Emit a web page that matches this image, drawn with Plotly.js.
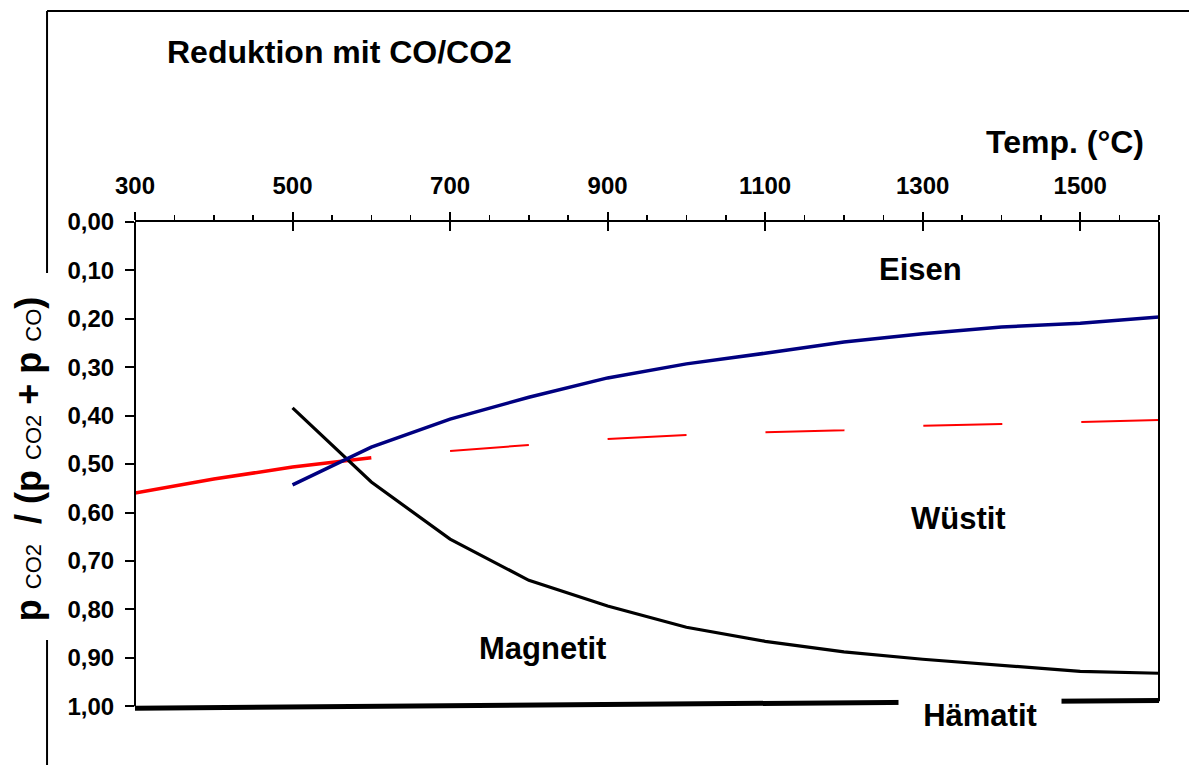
<!DOCTYPE html>
<html>
<head>
<meta charset="utf-8">
<script src="https://cdn.plot.ly/plotly-3.0.1.min.js"></script>
<style>html,body{margin:0;padding:0;background:#fff;}#chart{width:1189px;height:765px;}</style>
</head>
<body>
<div id="chart"></div>
<script>
// Temperature (°C) and p_CO2/(p_CO2+p_CO) values
const tempWuestitEisen = [500, 600, 700, 800, 900, 1000, 1100, 1200, 1300, 1400, 1500, 1600];
const valWuestitEisen  = [0.543, 0.465, 0.407, 0.362, 0.322, 0.293, 0.271, 0.248, 0.231, 0.217, 0.209, 0.196];

const tempMagnetitWuestit = [500, 600, 700, 800, 900, 1000, 1100, 1200, 1300, 1400, 1500, 1600];
const valMagnetitWuestit  = [0.384, 0.537, 0.655, 0.740, 0.793, 0.837, 0.866, 0.888, 0.903, 0.915, 0.928, 0.932];

const tempMagnetitEisen = [300, 400, 500, 600];
const valMagnetitEisen  = [0.560, 0.531, 0.506, 0.487];

const tempMetastable = [700, 800, 900, 1000, 1100, 1200, 1300, 1400, 1500, 1600];
const valMetastable  = [0.473, 0.461, 0.448, 0.440, 0.434, 0.430, 0.421, 0.417, 0.413, 0.409];

const tempHaematit = [300, 1600];
const valHaematit  = [1.004, 0.988];

const regionLabels = ["Eisen", "Wüstit", "Magnetit", "Hämatit"];
const regionX = [1297, 1345, 817, 1373];
const regionY = [0.099, 0.612, 0.880, 1.02];

const xMajorTicks = [300, 500, 700, 900, 1100, 1300, 1500];
const yTicks = [0, 0.1, 0.2, 0.3, 0.4, 0.5, 0.6, 0.7, 0.8, 0.9, 1.0];

const FONT = "Liberation Sans, Arial, sans-serif";
const Y_MAX = 1.012;

const traces = [
  {x: tempHaematit, y: valHaematit, mode: "lines", line: {color: "#000", width: 5}, hoverinfo: "skip"},
  {x: tempMetastable, y: valMetastable, mode: "lines", line: {color: "#FF0000", width: 2, dash: "79px,79px"}},
  {x: tempMagnetitEisen, y: valMagnetitEisen, mode: "lines", line: {color: "#FF0000", width: 3.5}},
  {x: tempMagnetitWuestit, y: valMagnetitWuestit, mode: "lines", line: {color: "#000", width: 3.2}},
  {x: tempWuestitEisen, y: valWuestitEisen, mode: "lines", line: {color: "#000080", width: 3.5}},
  // helper trace for the second (tick-only) axis
  {x: [300, 1600], y: [0, 0], xaxis: "x2", mode: "lines", line: {width: 0}, hoverinfo: "skip", showlegend: false}
];

const annotations = regionLabels.map((t, i) => {
  const inside = regionY[i] <= Y_MAX;
  return {
    x: regionX[i], xref: "x",
    // labels below the plotted range are placed in paper units (same y mapping)
    y: inside ? regionY[i] : 1 - regionY[i] / Y_MAX, yref: inside ? "y" : "paper",
    xanchor: "center", yanchor: "middle",
    text: t, showarrow: false,
    font: {family: FONT, size: 31, color: "#000", weight: 700},
    bgcolor: t === "Hämatit" ? "#fff" : "rgba(0,0,0,0)",
    width: t === "Hämatit" ? 162 : undefined,
    borderpad: 0
  };
});
annotations.push({
  x: 0.029, y: 1.347, xref: "paper", yref: "paper", xanchor: "left", yanchor: "middle",
  text: "Reduktion mit CO/CO2", showarrow: false,
  font: {family: FONT, size: 32, color: "#000", weight: 700}
});
annotations.push({
  x: 0.987, y: 1.163, xref: "paper", yref: "paper", xanchor: "right", yanchor: "middle",
  text: "Temp. (°C)", showarrow: false,
  font: {family: FONT, size: 32, color: "#000", weight: 700}
});
const sub = s => '<span style="font-size:22px;font-weight:normal">' + s + '</span>';
annotations.push({
  x: -0.1045, y: 0.518, xref: "paper", yref: "paper", xanchor: "center", yanchor: "middle",
  textangle: -90, showarrow: false,
  text: "p " + sub("CO2") + "\u00a0\u00a0/ (p " + sub("CO2") + " + p " + sub("CO") + ")",
  font: {family: FONT, size: 36, color: "#000", weight: 700}
});

const frame = {type: "line", xref: "paper", yref: "paper", line: {color: "#000", width: 2}};
const shapes = [
  Object.assign({}, frame, {x0: -0.0859, x1: 1.05, y0: 1.4306, y1: 1.4306}),
  Object.assign({}, frame, {x0: -0.0859, x1: -0.0859, y0: 1.4306, y1: 0.896}),
  Object.assign({}, frame, {x0: -0.0859, x1: -0.0859, y0: 0.147, y1: -0.2}),
  {type: "line", xref: "paper", yref: "y", x0: 0, x1: 0, y0: 0, y1: 1.0, line: {color: "#000", width: 2}},
  {type: "line", xref: "paper", yref: "y", x0: 1, x1: 1, y0: 0, y1: 0.99, line: {color: "#000", width: 2}}
];

const layout = {
  width: 1189, height: 765,
  margin: {l: 135, r: 30, t: 222, b: 53},
  paper_bgcolor: "#fff", plot_bgcolor: "#fff",
  showlegend: false,
  separators: ",.",
  font: {family: FONT, color: "#000"},
  xaxis: {
    side: "top", range: [300, 1600], showgrid: false, zeroline: false,
    showline: true, linecolor: "#000", linewidth: 2,
    tickmode: "array", tickvals: xMajorTicks,
    ticks: "outside", ticklen: 8, tickwidth: 2, tickcolor: "#000",
    ticklabelstandoff: 8,
    tickfont: {family: FONT, size: 24, weight: 700},
    minor: {dtick: 50, tick0: 300, ticks: "outside", ticklen: 5, tickwidth: 1.5, tickcolor: "#000", showgrid: false},
    fixedrange: true
  },
  xaxis2: {
    overlaying: "x", side: "top", range: [300, 1600], showgrid: false, zeroline: false,
    showline: false, tickmode: "array", tickvals: xMajorTicks, showticklabels: false,
    ticks: "inside", ticklen: 9, tickwidth: 2, tickcolor: "#000", fixedrange: true
  },
  yaxis: {
    range: [Y_MAX, 0], showgrid: false, zeroline: false, showline: false,
    tickmode: "array", tickvals: yTicks, tickformat: ".2f",
    ticks: "outside", ticklen: 9, tickwidth: 2, tickcolor: "#000",
    ticklabelstandoff: 6,
    tickfont: {family: FONT, size: 24, weight: 700},
    fixedrange: true
  },
  annotations: annotations,
  shapes: shapes
};

Plotly.newPlot("chart", traces, layout, {staticPlot: true, displayModeBar: false});
</script>
</body>
</html>
